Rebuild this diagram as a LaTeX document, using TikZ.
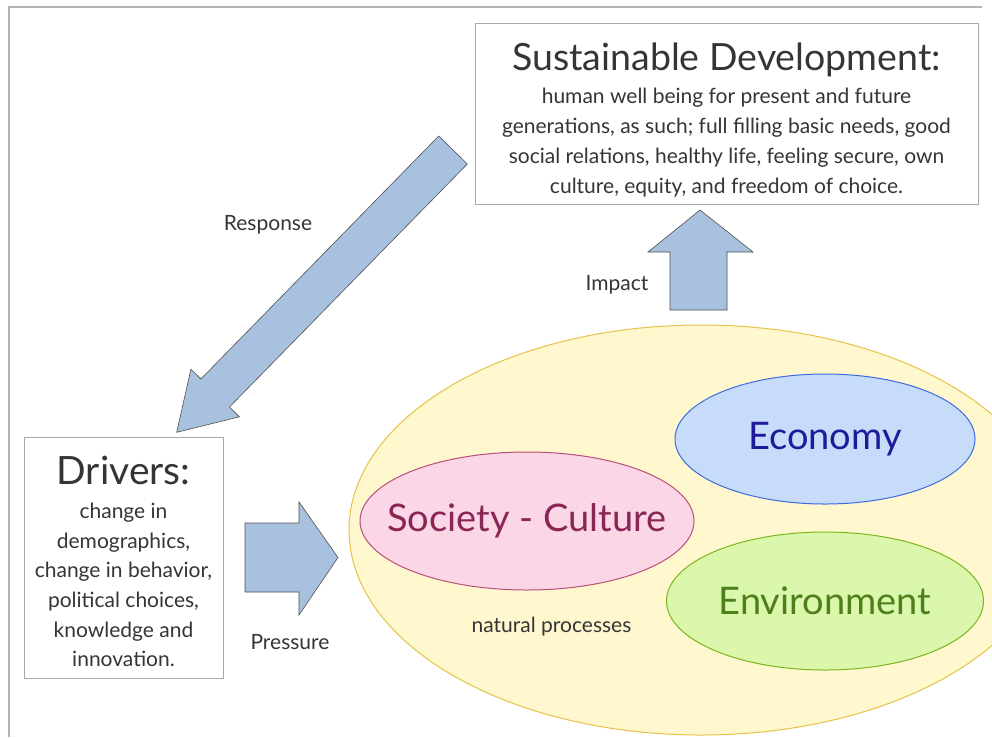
\documentclass[tikz,border=0pt]{standalone}
\usepackage{fontspec}
\setmainfont{Lato}
\usetikzlibrary{shapes.geometric}
\definecolor{framegray}{HTML}{B4B4B4}
\definecolor{boxgray}{HTML}{A8A8A8}
\definecolor{txt}{HTML}{353535}
\definecolor{yfill}{HTML}{FFF7CE}
\definecolor{yborder}{HTML}{E6C24A}
\definecolor{pfill}{HTML}{FAD6E7}
\definecolor{pborder}{HTML}{B8507A}
\definecolor{ptext}{HTML}{8A2656}
\definecolor{bfill}{HTML}{C7DBFA}
\definecolor{bborder}{HTML}{3C6CE0}
\definecolor{btext}{HTML}{1E1A9A}
\definecolor{gfill}{HTML}{DAF7AC}
\definecolor{gborder}{HTML}{7DB51F}
\definecolor{gtext}{HTML}{4E7F1A}
\definecolor{afill}{HTML}{A7C1DF}
\definecolor{aborder}{HTML}{505050}
\begin{document}
\begin{tikzpicture}[x=1pt,y=-1pt,
  textbox/.style={draw=boxgray, line width=0.8pt, fill=white, inner sep=0pt},
  titletext/.style={text=txt, font=\fontsize{37.5}{40}\selectfont, inner sep=0pt},
  bodytext/.style={text=txt, font=\fontsize{21}{30}\selectfont, align=center, inner sep=0pt},
  labeltext/.style={text=txt, font=\fontsize{21}{24}\selectfont, inner sep=0pt},
  blockarrow/.style={fill=afill, draw=aborder, line width=0.6pt, line join=miter},
  bubble/.style={ellipse, inner sep=0pt, line width=1pt},
  bubbletext/.style={inner sep=0pt, font=\fontsize{38}{40}\selectfont}
]
\useasboundingbox (0,0) rectangle (992,737);
\fill[white] (0,0) rectangle (992,737);
\coordinate (fbl) at (9,737);
\coordinate (ftl) at (9,7);
\coordinate (ftr) at (982,7);
\draw[framegray, line width=1.6pt] (fbl) -- (ftl) -- (ftr);

% nature ellipse
\begin{scope}
\clip (0,0) rectangle (992,737);
\node[ellipse, draw=yborder, fill=yfill, line width=1pt, minimum width=704, minimum height=410, inner sep=0pt] (nature) at (701,530) {};
\end{scope}

\node[bubble, draw=pborder, fill=pfill, minimum width=334, minimum height=138] (soc) at (527,521) {};
\node[bubbletext, text=ptext] (soct) at (soc.center) {Society - Culture};
\node[bubble, draw=bborder, fill=bfill, minimum width=300, minimum height=130] (eco) at (825,439) {};
\node[bubbletext, text=btext] (ecot) at (eco.center) {Economy};
\node[bubble, draw=gborder, fill=gfill, minimum width=317, minimum height=138] (env) at (825,601) {};
\node[bubbletext, text=gtext] (envt) at (env.center) {Environment};
\node[labeltext] (nat) at (551.5,627) {natural processes};

% Sustainable development box
\node[textbox, minimum width=503, minimum height=181] (sd) at (726.5,113.5) {};
\node[titletext] (sdt) at (726.5,60) {Sustainable Development:};
\node[bodytext] (sdb) at (726.5,143) {human well being for present and future\\generations, as such; full filling basic needs, good\\social relations, healthy life, feeling secure, own\\culture, equity, and freedom of choice.};

% Drivers box
\node[textbox, minimum width=199, minimum height=241] (dr) at (123.5,557.5) {};
\node[titletext, font=\fontsize{39}{40}\selectfont] (drt) at (123.5,470) {Drivers:};
\node[bodytext, font=\fontsize{21}{29.6}\selectfont] (drb) at (123.5,585) {change in\\demographics,\\change in behavior,\\political choices,\\knowledge and\\innovation.};

% Response arrow
\draw[blockarrow] (438.7,136) -- (467.3,164) -- (229.5,407) -- (239.5,416.8) -- (176.7,432.3) -- (190.9,369.2) -- (200.9,379) -- cycle;
\node[labeltext] (resp) at (268,225) {Response};

% Impact arrow
\draw[blockarrow] (670,310) -- (670,252) -- (648,252) -- (700,210) -- (753,252) -- (727,252) -- (727,310) -- cycle;
\node[labeltext] (imp) at (617,285) {Impact};

% Pressure arrow
\draw[blockarrow] (245,523) -- (299,523) -- (299,502) -- (338,557.5) -- (299,615) -- (299,592) -- (245,592) -- cycle;
\node[labeltext] (pres) at (290,642) {Pressure};
\end{tikzpicture}
\end{document}
